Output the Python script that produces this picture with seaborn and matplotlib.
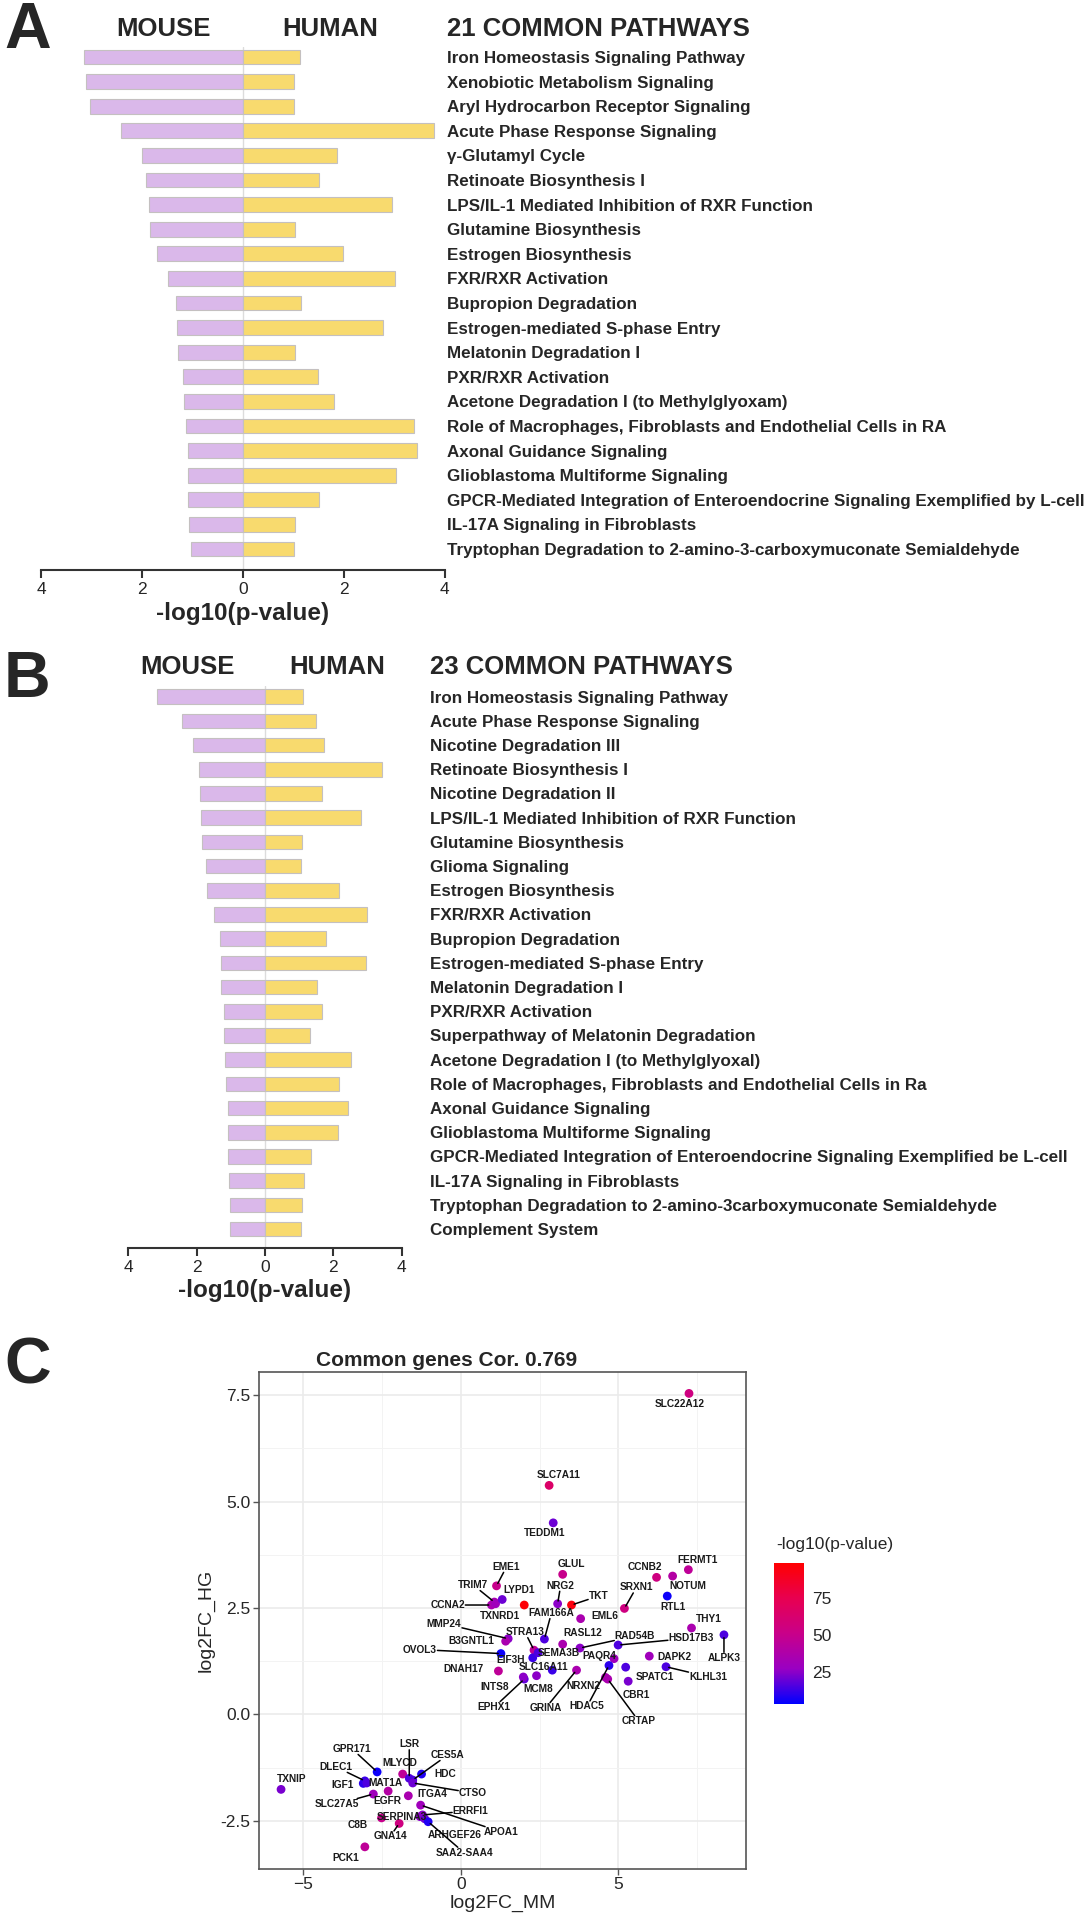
import numpy as np
import pandas as pd
import matplotlib
matplotlib.use("Agg")
import matplotlib.pyplot as plt
import seaborn as sns
from matplotlib.colors import LinearSegmentedColormap, Normalize
from matplotlib.cm import ScalarMappable
from matplotlib.ticker import FixedLocator, MultipleLocator, FormatStrFormatter

# ── Style ─────────────────────────────────────────────────
sns.set_theme(style="white")
plt.rcParams["font.family"] = ["Liberation Sans", "DejaVu Sans"]

W, H = 1091, 1920
MOUSE_C = "#DAB8EA"
HUMAN_C = "#F8DA6E"
EDGE_C = "#C4C0C0"

# ─────────────────────────────────────────────────────────
# DATA — panel A (21 common pathways)
# ─────────────────────────────────────────────────────────
pathways_a = [
    "Iron Homeostasis Signaling Pathway",
    "Xenobiotic Metabolism Signaling",
    "Aryl Hydrocarbon Receptor Signaling",
    "Acute Phase Response Signaling",
    "γ-Glutamyl Cycle",
    "Retinoate Biosynthesis I",
    "LPS/IL-1 Mediated Inhibition of RXR Function",
    "Glutamine Biosynthesis",
    "Estrogen Biosynthesis",
    "FXR/RXR Activation",
    "Bupropion Degradation",
    "Estrogen-mediated S-phase Entry",
    "Melatonin Degradation I",
    "PXR/RXR Activation",
    "Acetone Degradation I (to Methylglyoxam)",
    "Role of Macrophages, Fibroblasts and Endothelial Cells in RA",
    "Axonal Guidance Signaling",
    "Glioblastoma Multiforme Signaling",
    "GPCR-Mediated Integration of Enteroendocrine Signaling Exemplified by L-cell",
    "IL-17A Signaling in Fibroblasts",
    "Tryptophan Degradation to 2-amino-3-carboxymuconate Semialdehyde",
]
mouse_a = [3.15, 3.12, 3.04, 2.43, 2.00, 1.93, 1.86, 1.85, 1.70, 1.48, 1.33,
           1.30, 1.28, 1.20, 1.18, 1.14, 1.10, 1.09, 1.09, 1.07, 1.03]
human_a = [1.14, 1.01, 1.01, 3.78, 1.87, 1.50, 2.96, 1.04, 1.99, 3.02, 1.15,
           2.78, 1.04, 1.49, 1.80, 3.40, 3.45, 3.03, 1.51, 1.03, 1.01]

# ─────────────────────────────────────────────────────────
# DATA — panel B (23 common pathways)
# ─────────────────────────────────────────────────────────
pathways_b = [
    "Iron Homeostasis Signaling Pathway",
    "Acute Phase Response Signaling",
    "Nicotine Degradation III",
    "Retinoate Biosynthesis I",
    "Nicotine Degradation II",
    "LPS/IL-1 Mediated Inhibition of RXR Function",
    "Glutamine Biosynthesis",
    "Glioma Signaling",
    "Estrogen Biosynthesis",
    "FXR/RXR Activation",
    "Bupropion Degradation",
    "Estrogen-mediated S-phase Entry",
    "Melatonin Degradation I",
    "PXR/RXR Activation",
    "Superpathway of Melatonin Degradation",
    "Acetone Degradation I (to Methylglyoxal)",
    "Role of Macrophages, Fibroblasts and Endothelial Cells in Ra",
    "Axonal Guidance Signaling",
    "Glioblastoma Multiforme Signaling",
    "GPCR-Mediated Integration of Enteroendocrine Signaling Exemplified be L-cell",
    "IL-17A Signaling in Fibroblasts",
    "Tryptophan Degradation to 2-amino-3carboxymuconate Semialdehyde",
    "Complement System",
]
mouse_b = [3.16, 2.43, 2.11, 1.93, 1.89, 1.86, 1.85, 1.73, 1.71, 1.48, 1.32, 1.30,
           1.29, 1.20, 1.20, 1.17, 1.14, 1.09, 1.09, 1.09, 1.06, 1.02, 1.02]
human_b = [1.11, 1.48, 1.72, 3.41, 1.68, 2.82, 1.09, 1.06, 2.17, 2.99, 1.79, 2.96,
           1.53, 1.68, 1.32, 2.52, 2.17, 2.42, 2.13, 1.35, 1.13, 1.08, 1.04]

# ─────────────────────────────────────────────────────────
# DATA — panel C (common genes)
# ─────────────────────────────────────────────────────────
genes = [
    "SLC22A12", "SLC7A11", "TEDDM1", "EME1", "TRIM7", "CCNA2", "TXNRD1", "LYPD1",
    "", "GLUL", "NRG2", "TKT", "EML6", "FAM166A", "STRA13", "MMP24", "B3GNTL1",
    "OVOL3", "EIF3H", "SEMA3B", "DNAH17", "RASL12", "RAD54B", "HSD17B3",
    "SLC16A11", "PAQR4", "HDAC5", "CRTAP", "NRXN2", "SPATC1", "CBR1", "DAPK2",
    "KLHL31", "THY1", "ALPK3", "CCNB2", "NOTUM", "FERMT1", "RTL1", "SRXN1",
    "GRINA", "EPHX1", "MCM8", "INTS8",
    "TXNIP", "GPR171", "DLEC1", "IGF1", "MAT1A", "EGFR", "SLC27A5", "MLYCD",
    "LSR", "CES5A", "HDC", "CTSO", "ITGA4", "ERRFI1", "APOA1", "SERPINA3",
    "C8B", "GNA14", "ARHGEF26", "SAA2-SAA4", "PCK1",
]
log2fc_mm = [
    7.24, 2.80, 2.93, 1.13, 1.06, 0.97, 1.10, 1.31,
    2.01, 3.23, 3.07, 3.51, 3.80, 2.65, 2.32, 1.50, 1.42,
    1.27, 2.28, 2.45, 1.19, 3.23, 3.78, 4.99,
    2.90, 4.86, 4.70, 4.66, 4.59, 5.23, 5.31, 5.98,
    6.51, 7.32, 8.35, 6.21, 6.72, 7.22, 6.55, 5.19,
    3.67, 2.01, 2.40, 1.98,
    -5.71, -2.66, -3.05, -3.10, -2.99, -2.31, -2.78, -1.85,
    -1.64, -1.53, -1.25, -1.53, -1.67, -1.22, -1.28, -1.30,
    -2.52, -1.96, -1.15, -1.04, -3.05,
]
log2fc_hg = [
    7.54, 5.38, 4.50, 3.02, 2.64, 2.57, 2.60, 2.70,
    2.57, 3.29, 2.60, 2.57, 2.25, 1.77, 1.51, 1.78, 1.72,
    1.43, 1.33, 1.45, 1.02, 1.65, 1.56, 1.63,
    1.04, 1.31, 1.15, 0.83, 0.87, 1.11, 0.78, 1.37,
    1.12, 2.03, 1.87, 3.22, 3.25, 3.40, 2.78, 2.49,
    1.04, 0.83, 0.91, 0.88,
    -1.76, -1.35, -1.56, -1.62, -1.61, -1.80, -1.87, -1.40,
    -1.50, -1.54, -1.40, -1.61, -1.91, -2.36, -2.13, -2.40,
    -2.43, -2.56, -2.45, -2.52, -3.11,
]
neg_log10_p = [
    55, 65, 20, 50, 35, 35, 30, 20,
    97, 50, 25, 95, 35, 15, 45, 25, 35,
    5, 12, 15, 45, 35, 25, 15,
    12, 30, 10, 35, 35, 15, 22, 30,
    15, 35, 15, 55, 40, 45, 5, 55,
    35, 18, 25, 25,
    22, 5, 12, 10, 15, 40, 30, 45,
    15, 15, 8, 20, 35, 25, 30, 25,
    50, 55, 20, 8, 45,
]

# label placement (pixel offsets from the point: dx right, dy down, leader line?)
label_offsets = {
    "SLC22A12": (-9, 11, False), "SLC7A11": (10, -10, False), "TEDDM1": (-9, 10, False),
    "EME1": (10, -19, True), "TRIM7": (-21, -17, True), "CCNA2": (-44, 0, True),
    "TXNRD1": (4, 12, False), "LYPD1": (17, -9, False), "GLUL": (9, -10, False),
    "NRG2": (3, -18, True), "TKT": (27, -9, True), "EML6": (24, -3, False),
    "FAM166A": (7, -26, True), "STRA13": (-9, -18, True), "MMP24": (-64, -15, True),
    "B3GNTL1": (-34, 0, False), "OVOL3": (-81, -4, True), "EIF3H": (-22, 2, False),
    "SEMA3B": (21, 0, False), "DNAH17": (-35, -2, False), "RASL12": (20, -11, False),
    "RAD54B": (55, -12, True), "HSD17B3": (73, -7, True), "SLC16A11": (-9, -3, False),
    "PAQR4": (-15, -3, False), "HDAC5": (-22, 41, True), "CRTAP": (31, 42, True),
    "NRXN2": (-22, 9, False), "SPATC1": (29, 10, False), "CBR1": (8, 14, False),
    "DAPK2": (25, 1, False), "KLHL31": (42, 10, True), "THY1": (17, -9, False),
    "ALPK3": (0, 23, True), "CCNB2": (-12, -10, False), "NOTUM": (15, 10, False),
    "FERMT1": (9, -10, False), "RTL1": (6, 11, False), "SRXN1": (12, -21, True),
    "GRINA": (-31, 38, True), "EPHX1": (-30, 28, True), "MCM8": (2, 13, False),
    "INTS8": (-29, 10, False),
    "TXNIP": (11, -10, False), "GPR171": (-25, -23, True), "DLEC1": (-29, -14, True),
    "IGF1": (-21, 2, False), "MAT1A": (19, 0, False), "EGFR": (-1, 10, False),
    "SLC27A5": (-36, 10, True), "MLYCD": (-3, -11, False), "LSR": (0, -34, True),
    "CES5A": (35, -25, True), "HDC": (24, 0, False), "CTSO": (60, 10, True),
    "ITGA4": (24, -2, False), "ERRFI1": (48, -4, True), "APOA1": (81, 27, True),
    "SERPINA3": (-18, 0, False), "C8B": (-24, 7, False), "GNA14": (-9, 13, True),
    "ARHGEF26": (30, 16, False), "SAA2-SAA4": (36, 31, True), "PCK1": (-19, 11, False),
}

fig = plt.figure(figsize=(W / 100, H / 100), dpi=100)


def fx(px):
    return px / W


def fy(py):
    return 1 - py / H


# ─────────────────────────────────────────────────────────
# PANELS A & B — mirrored bar charts
# ─────────────────────────────────────────────────────────
def mirrored_bars(rect, pathways, mouse, human, ylim, label_pad):
    ax = fig.add_axes(rect)
    df = pd.DataFrame({
        "pathway": pathways * 2,
        "value": [-v for v in mouse] + list(human),
        "species": ["MOUSE"] * len(pathways) + ["HUMAN"] * len(pathways),
    })
    sns.barplot(data=df, x="value", y="pathway", hue="species", order=pathways,
                palette={"MOUSE": MOUSE_C, "HUMAN": HUMAN_C}, dodge=False,
                width=0.6, orient="h", errorbar=None, edgecolor=EDGE_C,
                linewidth=0.8, saturation=1, legend=False, ax=ax)
    ax.axvline(0, color="#DCDCDC", lw=1.0, zorder=0.5)
    ax.set_xlim(-4, 4)
    ax.set_ylim(*ylim)
    ax.set_ylabel("")
    ax.set_xlabel("-log10(p-value)", fontsize=17.5, fontweight="bold", labelpad=3)
    ax.xaxis.set_major_locator(FixedLocator([-4, -2, 0, 2, 4]))
    ax.set_xticklabels(["4", "2", "0", "2", "4"])
    for s in ["top", "left", "right"]:
        ax.spines[s].set_visible(False)
    ax.spines["bottom"].set_color("#333333")
    ax.spines["bottom"].set_linewidth(1.5)
    ax.tick_params(axis="x", direction="out", length=6, width=1.5, color="#333333",
                   labelsize=12.5, pad=3, bottom=True)
    ax.yaxis.tick_right()
    ax.tick_params(axis="y", length=0, pad=label_pad, labelsize=12.25)
    for lbl in ax.get_yticklabels():
        lbl.set_fontweight("bold")
    return ax


ax_a = mirrored_bars([fx(41.4), fy(570), 403.2 / W, 523 / H],
                     pathways_a, mouse_a, human_a, (20.854, -0.407), 1.5)
ax_b = mirrored_bars([fx(128.2), fy(1247.7), 273.6 / W, 561.7 / H],
                     pathways_b, mouse_b, human_b, (22.77, -0.44), 20)

hdr = dict(fontsize=18.5, fontweight="bold", va="center")
letter = dict(fontsize=46.5, fontweight="bold", va="center")
fig.text(fx(4), fy(31), "A", **letter)
fig.text(fx(163), fy(29), "MOUSE", ha="center", **hdr)
fig.text(fx(330), fy(29), "HUMAN", ha="center", **hdr)
fig.text(fx(447), fy(29), "21 COMMON PATHWAYS", ha="left", **hdr)

fig.text(fx(4), fy(680), "B", **letter)
fig.text(fx(188), fy(667), "MOUSE", ha="center", **hdr)
fig.text(fx(337), fy(667), "HUMAN", ha="center", **hdr)
fig.text(fx(430), fy(667), "23 COMMON PATHWAYS", ha="left", **hdr)

# ─────────────────────────────────────────────────────────
# PANEL C — scatter of common genes
# ─────────────────────────────────────────────────────────
cmap = LinearSegmentedColormap.from_list(
    "bluered", ["#0000FF", "#9A00C2", "#C90089", "#E80050", "#FF0000"])
norm = Normalize(vmin=3, vmax=99)

df_c = pd.DataFrame({"gene": genes, "mm": log2fc_mm, "hg": log2fc_hg, "p": neg_log10_p})

ax_c = fig.add_axes([fx(259), fy(1869), (745.7 - 259) / W, (1869 - 1371.7) / H])
ax_c.set_axisbelow(True)
sns.scatterplot(data=df_c, x="mm", y="hg", hue="p", palette=cmap, hue_norm=norm,
                s=40, linewidth=0, legend=False, ax=ax_c, zorder=3)
ax_c.set_xlim(-6.41, 9.04)
ax_c.set_ylim(-3.63, 8.05)
ax_c.xaxis.set_major_locator(MultipleLocator(5))
ax_c.xaxis.set_minor_locator(MultipleLocator(2.5))
ax_c.yaxis.set_major_locator(MultipleLocator(2.5))
ax_c.yaxis.set_minor_locator(MultipleLocator(1.25))
ax_c.yaxis.set_major_formatter(FormatStrFormatter("%.1f"))
ax_c.grid(which="major", color="#EBEBEB", lw=1.2)
ax_c.grid(which="minor", color="#F3F3F3", lw=0.7)
for s in ax_c.spines.values():
    s.set_color("#555555")
    s.set_linewidth(1.2)
ax_c.tick_params(which="major", direction="out", length=4, width=1, color="#555555",
                 labelsize=12.5, left=True, bottom=True, pad=2)
ax_c.tick_params(which="minor", length=0)
ax_c.set_xlabel("log2FC_MM", fontsize=14, labelpad=2)
ax_c.set_ylabel("log2FC_HG", fontsize=14, labelpad=4)

for g, x, y in zip(genes, log2fc_mm, log2fc_hg):
    if not g:
        continue
    dx, dy, line = label_offsets[g]
    arrow = dict(arrowstyle="-", color="black", lw=1.1, shrinkA=0, shrinkB=2) if line else None
    ax_c.annotate(g, xy=(x, y), xytext=(dx, -dy), textcoords="offset pixels",
                  ha="center", va="center", fontsize=7.3, fontweight="bold",
                  color="#1a1a1a", arrowprops=arrow, zorder=4,
                  bbox=dict(boxstyle="square,pad=0.05", fc="none", ec="none"))

fig.text(fx(4), fy(1367), "C", **letter)
fig.text(fx(447), fy(1360), "Common genes Cor. 0.769", ha="center", va="center",
         fontsize=15, fontweight="bold")

# colour bar
cax = fig.add_axes([fx(774.3), fy(1704), 29.7 / W, 141.3 / H])
cb = fig.colorbar(ScalarMappable(norm=norm, cmap=cmap), cax=cax, ticks=[25, 50, 75])
cb.outline.set_visible(False)
cax.tick_params(direction="in", length=5, width=1, color="white", left=True,
                right=True, labelleft=False, labelright=True, labelsize=12.5, pad=6)
fig.text(fx(776), fy(1545), "-log10(p-value)", ha="left", va="center", fontsize=12.5)

fig.savefig("out.png", dpi=100)
